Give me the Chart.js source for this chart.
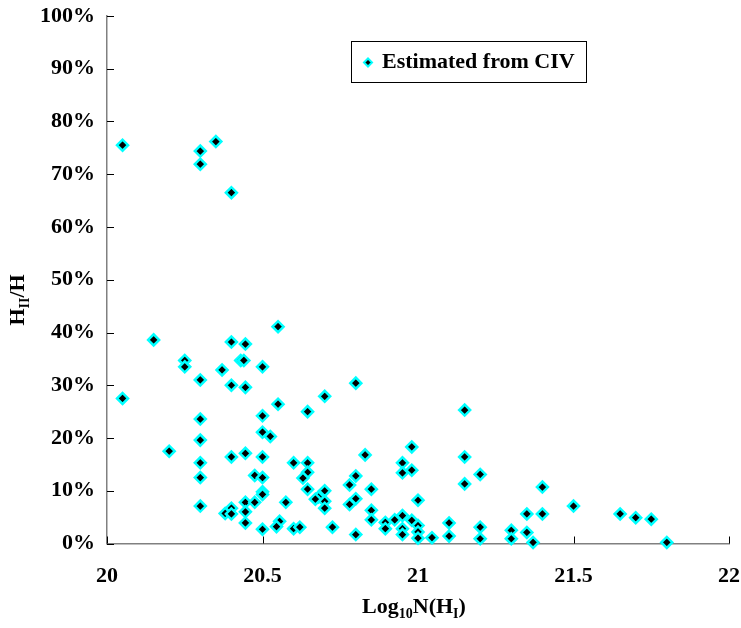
<!DOCTYPE html>
<html>
<head>
<meta charset="utf-8">
<script src="https://cdn.jsdelivr.net/npm/chart.js@4.4.1/dist/chart.umd.min.js"></script>
<style>
  html, body { margin: 0; padding: 0; background: #fff; }
  #wrap { width: 741px; height: 628px; position: relative; }
</style>
</head>
<body>
<div id="wrap"><canvas id="chart"></canvas></div>
<script>
// data: log10 N(HI) and HII/H in percent
const logNHI = [
  20.05, 20.30, 20.30, 20.35, 20.40, 20.55, 20.15, 20.40, 20.445, 20.25,
  20.25, 20.43, 20.44, 20.50, 20.37, 20.30, 20.40, 20.445, 20.05, 20.55,
  20.50, 20.30, 20.50, 20.525, 20.30, 20.20, 20.445, 20.40, 20.50, 20.30,
  20.475, 20.50, 20.30, 20.50, 20.50, 20.445, 20.475, 20.575, 20.30, 20.40,
  20.38, 20.40, 20.445, 20.445, 20.555, 20.545, 20.50, 20.80, 20.70, 20.645,
  20.98, 20.83, 20.60, 20.645, 20.95, 20.645, 20.95, 20.98, 20.63, 20.80,
  20.78, 20.645, 20.70, 20.85, 20.68, 20.67, 20.70, 20.80, 20.78, 21.00,
  20.70, 20.85, 20.85, 20.95, 20.925, 20.895, 20.895, 20.98, 21.00, 21.00,
  21.00, 20.95, 20.95, 21.045, 20.60, 20.62, 20.725, 20.80, 21.10, 21.10,
  21.15, 21.15, 21.15, 21.20, 21.20, 21.20, 21.30, 21.30, 21.35, 21.35,
  21.37, 21.40, 21.40, 21.50, 21.65, 21.70, 21.75, 21.80
];
const hiiPercent = [
  75.5, 74.4, 71.9, 76.2, 66.5, 41.1, 38.6, 38.2, 37.8, 34.7,
  33.5, 34.7, 34.7, 33.5, 32.9, 31.0, 30.0, 29.6, 27.5, 26.4,
  24.2, 23.6, 21.1, 20.3, 19.6, 17.5, 17.1, 16.4, 16.4, 15.3,
  12.9, 12.5, 12.5, 9.8, 9.3, 7.8, 7.8, 7.8, 7.1, 6.7,
  5.7, 5.6, 6.0, 3.9, 4.2, 3.2, 2.7, 30.4, 27.9, 25.0,
  18.3, 16.8, 15.3, 15.3, 15.3, 13.5, 13.4, 13.9, 12.4, 12.8,
  11.1, 10.3, 10.0, 10.3, 8.8, 8.4, 8.0, 8.5, 7.4, 8.2,
  6.7, 6.3, 4.5, 5.3, 4.5, 4.0, 2.8, 4.4, 3.4, 2.2,
  1.0, 2.8, 1.7, 1.1, 2.8, 3.1, 3.1, 1.7, 3.9, 1.4,
  25.3, 16.4, 11.3, 13.1, 3.1, 0.9, 2.5, 0.9, 5.6, 2.1,
  0.2, 10.7, 5.6, 7.1, 5.6, 4.9, 4.6, 0.2
];
const xTickValues = [20, 20.5, 21, 21.5, 22];
const yTickValues = [0, 10, 20, 30, 40, 50, 60, 70, 80, 90, 100];
const seriesName = 'Estimated from CIV';

const FONT = "'Liberation Serif', 'Times New Roman', serif";
const points = logNHI.map((x, i) => ({ x: x, y: hiiPercent[i] }));

// small inward tick marks like the original
const innerTicks = {
  id: 'innerTicks',
  beforeDatasetsDraw(chart) {
    const ctx = chart.ctx, a = chart.chartArea;
    const xs = chart.scales.x, ys = chart.scales.y;
    ctx.save();
    ctx.strokeStyle = '#000';
    ctx.lineWidth = 1;
    ctx.beginPath();
    xTickValues.forEach(v => {
      const px = Math.round(xs.getPixelForValue(v)) + 0.5;
      ctx.moveTo(px, a.bottom);
      ctx.lineTo(px, a.bottom - 7);
    });
    yTickValues.forEach(v => {
      const py = Math.round(ys.getPixelForValue(v)) + 0.5;
      ctx.moveTo(a.left, py);
      ctx.lineTo(a.left + 7, py);
    });
    ctx.stroke();
    ctx.restore();
  }
};

// draws a run of text parts, some as subscripts
function drawParts(ctx, parts, x, y) {
  let cx = x;
  parts.forEach(p => {
    ctx.font = p.sub ? 'bold 14px ' + FONT : 'bold 22px ' + FONT;
    ctx.fillText(p.t, cx, p.sub ? y + 5 : y);
    cx += ctx.measureText(p.t).width;
  });
}
function partsWidth(ctx, parts) {
  let w = 0;
  parts.forEach(p => {
    ctx.font = p.sub ? 'bold 14px ' + FONT : 'bold 22px ' + FONT;
    w += ctx.measureText(p.t).width;
  });
  return w;
}

const axisTitles = {
  id: 'axisTitles',
  afterDraw(chart) {
    const ctx = chart.ctx, a = chart.chartArea;
    ctx.save();
    ctx.fillStyle = '#000';
    ctx.textBaseline = 'alphabetic';
    ctx.textAlign = 'left';
    const xt = [{ t: 'Log' }, { t: '10', sub: true }, { t: 'N(H' }, { t: 'I', sub: true }, { t: ')' }];
    const wx = partsWidth(ctx, xt);
    drawParts(ctx, xt, 414 - wx / 2, 613);

    const yt = [{ t: 'H' }, { t: 'II', sub: true }, { t: '/H' }];
    const wy = partsWidth(ctx, yt);
    ctx.translate(24, 300);
    ctx.rotate(-Math.PI / 2);
    drawParts(ctx, yt, -wy / 2, 0);
    ctx.restore();
  }
};

const boxLegend = {
  id: 'boxLegend',
  afterDraw(chart) {
    const ctx = chart.ctx, a = chart.chartArea;
    const bx = a.left + 244, by = a.top + 25, bw = 235, bh = 41;
    ctx.save();
    ctx.fillStyle = '#fff';
    ctx.fillRect(bx, by, bw, bh);
    ctx.strokeStyle = '#000';
    ctx.lineWidth = 1;
    ctx.strokeRect(bx + 0.5, by + 0.5, bw, bh);
    ctx.fillStyle = '#000';
    ctx.strokeStyle = '#00ffff';
    ctx.lineWidth = 2;
    Chart.helpers.drawPoint(ctx, { pointStyle: 'rectRot', radius: 4, borderWidth: 2 }, bx + 17, by + bh / 2 + 1);
    ctx.fillStyle = '#000';
    ctx.font = 'bold 22px ' + FONT;
    ctx.textBaseline = 'middle';
    ctx.fillText(seriesName, bx + 31, by + bh / 2 + 1);
    ctx.restore();
  }
};

new Chart(document.getElementById('chart'), {
  type: 'scatter',
  data: {
    datasets: [{
      label: seriesName,
      data: points,
      pointStyle: 'rectRot',
      pointRadius: 5.5,
      pointHoverRadius: 5.5,
      backgroundColor: '#000',
      borderColor: '#00ffff',
      borderWidth: 2.5,
      clip: false
    }]
  },
  options: {
    responsive: true,
    maintainAspectRatio: false,
    animation: false,
    devicePixelRatio: 1,
    layout: { padding: 0 },
    plugins: { legend: { display: false }, tooltip: { enabled: false } },
    scales: {
      x: {
        type: 'linear',
        min: 20, max: 22,
        afterBuildTicks: s => { s.ticks = xTickValues.map(v => ({ value: v })); },
        afterFit: s => { s.height = 84.5; s.paddingRight = 12; },
        ticks: {
          color: '#000',
          padding: 20,
          maxRotation: 0,
          font: { family: FONT, size: 22, weight: 'bold' },
          callback: v => String(v)
        },
        grid: { drawOnChartArea: false, drawTicks: false },
        border: { display: true, color: '#808080', width: 1.5 }
      },
      y: {
        min: 0, max: 100,
        afterBuildTicks: s => { s.ticks = yTickValues.map(v => ({ value: v })); },
        afterFit: s => { s.width = 107; s.paddingTop = 16; },
        ticks: {
          color: '#000',
          padding: 12,
          font: { family: FONT, size: 22, weight: 'bold' },
          callback: v => v + '%'
        },
        grid: { drawOnChartArea: false, drawTicks: false },
        border: { display: true, color: '#808080', width: 1.5 }
      }
    }
  },
  plugins: [innerTicks, axisTitles, boxLegend]
});
</script>
</body>
</html>
